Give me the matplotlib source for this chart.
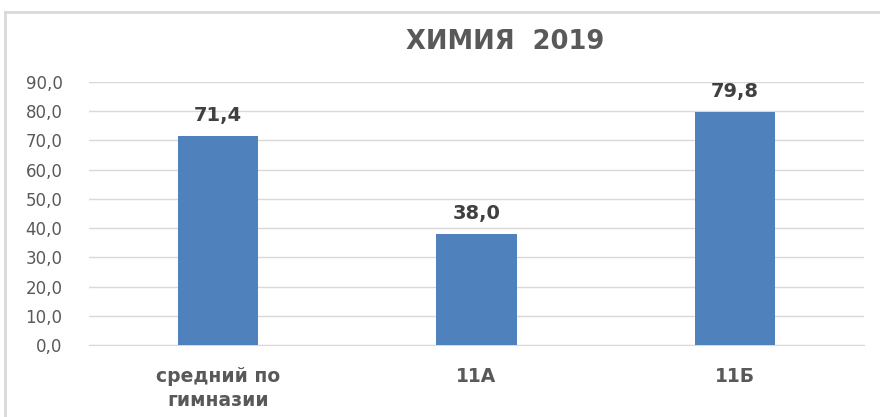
import matplotlib
matplotlib.use("Agg")
import matplotlib.pyplot as plt
from matplotlib.lines import Line2D

categories = ["средний по\nгимназии", "11А", "11Б"]
values = [71.4, 38.0, 79.8]
yticks = [0, 10, 20, 30, 40, 50, 60, 70, 80, 90]
title = "ХИМИЯ  2019"

plt.rcParams['font.family'] = ['DejaVu Sans']
W, H = 880, 417
fig = plt.figure(figsize=(W / 100, H / 100), dpi=100)
ax = fig.add_axes([89 / W, 1 - 345 / H, (864 - 89) / W, (345 - 82) / H])

x = range(len(categories))
bars = ax.bar(x, values, width=0.31, color="#4F81BD", zorder=3)
ax.set_xlim(-0.5, len(categories) - 0.5)
ax.set_ylim(0, 90)
ax.set_yticks(yticks)
ax.set_yticklabels([f"{v:.1f}".replace(".", ",") for v in yticks],
                   fontsize=12, color="#595959")
ax.set_xticks(list(x))
ax.set_xticklabels(categories, fontsize=13.5, fontweight="bold", color="#595959",
                   linespacing=1.3)
ax.tick_params(axis="y", length=0, pad=19)
ax.tick_params(axis="x", length=0, pad=16)
ax.grid(axis="y", color="#D9D9D9", linewidth=1, zorder=0)
for s in ["top", "right", "left"]:
    ax.spines[s].set_visible(False)
ax.spines["bottom"].set_color("#D9D9D9")

for b, v in zip(bars, values):
    ax.annotate(f"{v:.1f}".replace(".", ","), (b.get_x() + b.get_width() / 2, v),
                xytext=(0, 8), textcoords="offset points", ha="center", va="bottom",
                fontsize=14, fontweight="bold", color="#404040")

fig.text(505 / W, 1 - 42 / H, title, ha="center", va="center", fontsize=18.5,
         fontweight="bold", color="#595959")

fig.add_artist(Line2D([5 / W, 5 / W], [0, 1 - 12 / H], transform=fig.transFigure,
                      color="#D9D9D9", linewidth=2))
fig.add_artist(Line2D([5 / W, 1], [1 - 12 / H, 1 - 12 / H], transform=fig.transFigure,
                      color="#D9D9D9", linewidth=2))

fig.savefig("out.png", dpi=100)
